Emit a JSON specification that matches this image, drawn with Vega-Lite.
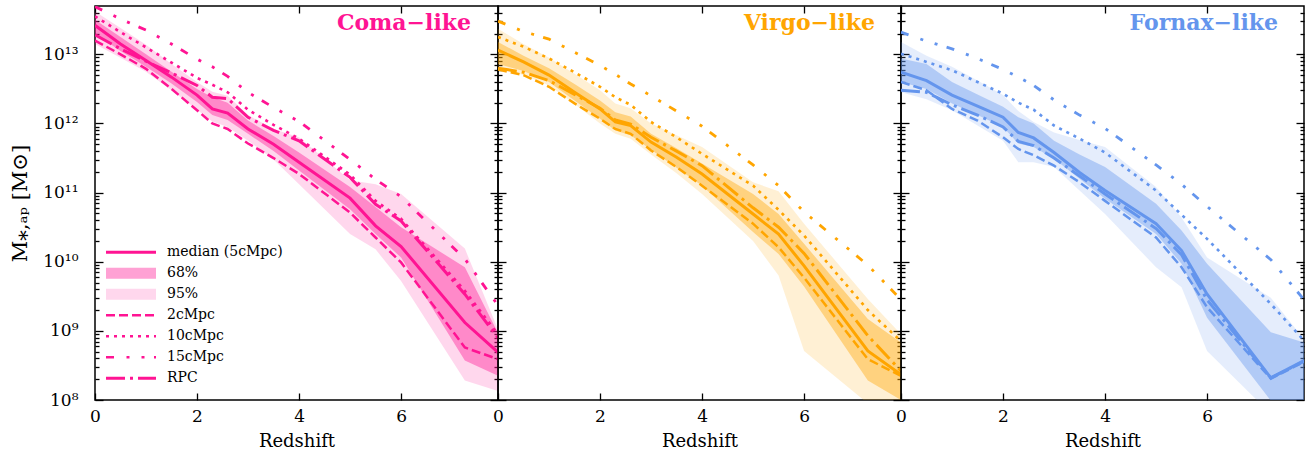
{
  "$schema": "https://vega.github.io/schema/vega-lite/v6.json",
  "padding": {"left": 8, "top": 4, "right": 5, "bottom": 5},
  "spacing": 0,
  "bounds": "flush",
  "config": {
    "font": "DejaVu Serif",
    "view": {"stroke": "black", "strokeWidth": 1.5},
    "title": {"font": "DejaVu Serif"},
    "axis": {"grid": false, "domain": false, "tickColor": "black", "tickWidth": 1.3, "labelColor": "black", "labelFont": "DejaVu Serif", "labelFontSize": 17, "titleFont": "DejaVu Serif", "titleFontSize": 18, "titleFontWeight": "normal", "titleColor": "black", "minExtent": 0}
  },
  "datasets": {
    "d": [
      {"c":"Coma","z":0,"med":2.63e13,"lo68":2.0e13,"hi68":3.16e13,"lo95":1.41e13,"hi95":4.17e13,"d2":1.58e13,"d10":3.55e13,"d15":4.9e13,"rpc":1.91e13},
      {"c":"Coma","z":0.5,"med":1.41e13,"lo68":1.12e13,"hi68":1.78e13,"lo95":8.91e12,"hi95":2.4e13,"d2":1.0e13,"d10":2.09e13,"d15":3.24e13,"rpc":1.2e13},
      {"c":"Coma","z":1,"med":8.13e12,"lo68":6.61e12,"hi68":1.0e13,"lo95":5.62e12,"hi95":1.38e13,"d2":6.17e12,"d10":1.26e13,"d15":2.24e13,"rpc":7.94e12},
      {"c":"Coma","z":1.5,"med":4.68e12,"lo68":3.8e12,"hi68":5.62e12,"lo95":3.02e12,"hi95":7.24e12,"d2":3.16e12,"d10":7.59e12,"d15":1.41e13,"rpc":5.37e12},
      {"c":"Coma","z":2,"med":2.57e12,"lo68":2.04e12,"hi68":3.16e12,"lo95":1.58e12,"hi95":3.98e12,"d2":1.55e12,"d10":4.57e12,"d15":8.51e12,"rpc":3.55e12},
      {"c":"Coma","z":2.3,"med":1.62e12,"lo68":1.32e12,"hi68":2.4e12,"lo95":1.07e12,"hi95":2.88e12,"d2":1.0e12,"d10":3.63e12,"d15":6.61e12,"rpc":2.4e12},
      {"c":"Coma","z":2.6,"med":1.41e12,"lo68":1.12e12,"hi68":2.0e12,"lo95":8.91e11,"hi95":2.51e12,"d2":8.32e11,"d10":2.82e12,"d15":4.79e12,"rpc":2.29e12},
      {"c":"Coma","z":3,"med":8.32e11,"lo68":7.08e11,"hi68":1.1e12,"lo95":5.62e11,"hi95":1.32e12,"d2":5.13e11,"d10":1.58e12,"d15":2.82e12,"rpc":1.23e12},
      {"c":"Coma","z":3.5,"med":5.01e11,"lo68":3.98e11,"hi68":6.61e11,"lo95":3.02e11,"hi95":8.32e11,"d2":3.16e11,"d10":9.55e11,"d15":1.7e12,"rpc":7.94e11},
      {"c":"Coma","z":4,"med":2.75e11,"lo68":2.09e11,"hi68":3.8e11,"lo95":1.32e11,"hi95":6.31e11,"d2":1.86e11,"d10":6.03e11,"d15":1.07e12,"rpc":5.62e11},
      {"c":"Coma","z":5,"med":8.32e10,"lo68":5.75e10,"hi68":1.2e11,"lo95":2.51e10,"hi95":1.51e11,"d2":5.13e10,"d10":1.82e11,"d15":3.02e11,"rpc":1.66e11},
      {"c":"Coma","z":5.5,"med":3.31e10,"lo68":2.51e10,"hi68":6.17e10,"lo95":1.51e10,"hi95":1.32e11,"d2":2.24e10,"d10":7.59e10,"d15":1.55e11,"rpc":6.76e10},
      {"c":"Coma","z":6,"med":1.66e10,"lo68":1.15e10,"hi68":3.16e10,"lo95":5.25e9,"hi95":9.55e10,"d2":9.77e9,"d10":4.17e10,"d15":8.71e10,"rpc":3.89e10},
      {"c":"Coma","z":7.25,"med":1.32e9,"lo68":3.72e8,"hi68":8.32e9,"lo95":1.91e8,"hi95":1.55e10,"d2":5.75e8,"d10":3.8e9,"d15":1.1e10,"rpc":3.39e9},
      {"c":"Coma","z":7.9,"med":4.9e8,"lo68":2.24e8,"hi68":9.33e8,"lo95":1.35e8,"hi95":1.05e9,"d2":3.89e8,"d10":8.91e8,"d15":2.34e9,"rpc":7.94e8},
      {"c":"Virgo","z":0,"med":1.15e13,"lo68":7.24e12,"hi68":1.51e13,"lo95":6.17e12,"hi95":2.34e13,"d2":6.03e12,"d10":1.78e13,"d15":3.02e13,"rpc":6.31e12},
      {"c":"Virgo","z":0.5,"med":7.76e12,"lo68":5.75e12,"hi68":9.55e12,"lo95":5.01e12,"hi95":1.41e13,"d2":5.01e12,"d10":1.29e13,"d15":2.14e13,"rpc":5.5e12},
      {"c":"Virgo","z":1,"med":5.01e12,"lo68":3.98e12,"hi68":6.31e12,"lo95":3.55e12,"hi95":8.91e12,"d2":3.39e12,"d10":8.71e12,"d15":1.66e13,"rpc":4.17e12},
      {"c":"Virgo","z":1.5,"med":2.82e12,"lo68":2.14e12,"hi68":3.72e12,"lo95":1.91e12,"hi95":5.25e12,"d2":1.95e12,"d10":5.5e12,"d15":1.07e13,"rpc":2.63e12},
      {"c":"Virgo","z":2,"med":1.62e12,"lo68":1.17e12,"hi68":2.14e12,"lo95":1.0e12,"hi95":3.02e12,"d2":1.17e12,"d10":3.39e12,"d15":6.92e12,"rpc":1.66e12},
      {"c":"Virgo","z":2.3,"med":1.05e12,"lo68":7.94e11,"hi68":1.45e12,"lo95":7.08e11,"hi95":1.95e12,"d2":8.32e11,"d10":2.4e12,"d15":5.13e12,"rpc":1.12e12},
      {"c":"Virgo","z":2.6,"med":9.33e11,"lo68":6.76e11,"hi68":1.26e12,"lo95":6.03e11,"hi95":1.66e12,"d2":7.08e11,"d10":1.86e12,"d15":3.72e12,"rpc":9.77e11},
      {"c":"Virgo","z":3,"med":5.37e11,"lo68":4.17e11,"hi68":7.08e11,"lo95":3.55e11,"hi95":1.0e12,"d2":4.07e11,"d10":1.05e12,"d15":2.51e12,"rpc":6.31e11},
      {"c":"Virgo","z":3.5,"med":3.24e11,"lo68":2.29e11,"hi68":4.37e11,"lo95":1.91e11,"hi95":6.76e11,"d2":2.34e11,"d10":6.31e11,"d15":1.51e12,"rpc":3.98e11},
      {"c":"Virgo","z":4,"med":1.86e11,"lo68":1.26e11,"hi68":2.63e11,"lo95":9.55e10,"hi95":4.57e11,"d2":1.26e11,"d10":3.63e11,"d15":9.12e11,"rpc":2.45e11},
      {"c":"Virgo","z":5,"med":4.9e10,"lo68":2.69e10,"hi68":9.55e10,"lo95":2.0e10,"hi95":1.41e11,"d2":3.55e10,"d10":1.26e11,"d15":2.51e11,"rpc":6.03e10},
      {"c":"Virgo","z":5.5,"med":2.51e10,"lo68":1.29e10,"hi68":4.9e10,"lo95":6.31e9,"hi95":1.05e11,"d2":1.62e10,"d10":5.62e10,"d15":1.26e11,"rpc":3.16e10},
      {"c":"Virgo","z":6,"med":8.71e9,"lo68":4.37e9,"hi68":1.82e10,"lo95":5.13e8,"hi95":3.55e10,"d2":5.89e9,"d10":2.4e10,"d15":5.25e10,"rpc":1.32e10},
      {"c":"Virgo","z":7.25,"med":5.13e8,"lo68":1.91e8,"hi68":1.48e9,"lo95":8.91e7,"hi95":2.88e9,"d2":3.89e8,"d10":2.0e9,"d15":8.91e9,"rpc":8.51e8},
      {"c":"Virgo","z":7.9,"med":2.34e8,"lo68":1.0e8,"hi68":6.76e8,"lo95":5.01e7,"hi95":8.91e8,"d2":2.24e8,"d10":7.08e8,"d15":2.82e9,"rpc":2.63e8},
      {"c":"Fornax","z":0,"med":5.5e12,"lo68":3.98e12,"hi68":8.71e12,"lo95":2.82e12,"hi95":1.51e13,"d2":3.98e12,"d10":1.02e13,"d15":2.09e13,"rpc":3.02e12},
      {"c":"Fornax","z":0.5,"med":4.17e12,"lo68":3.16e12,"hi68":7.24e12,"lo95":2.24e12,"hi95":9.55e12,"d2":3.02e12,"d10":7.76e12,"d15":1.55e13,"rpc":2.82e12},
      {"c":"Fornax","z":1,"med":2.57e12,"lo68":1.95e12,"hi68":3.98e12,"lo95":1.55e12,"hi95":6.61e12,"d2":1.62e12,"d10":5.89e12,"d15":1.2e13,"rpc":1.86e12},
      {"c":"Fornax","z":1.5,"med":1.78e12,"lo68":1.32e12,"hi68":2.63e12,"lo95":9.33e11,"hi95":4.17e12,"d2":1.1e12,"d10":3.98e12,"d15":8.71e12,"rpc":1.32e12},
      {"c":"Fornax","z":2,"med":1.23e12,"lo68":8.91e11,"hi68":1.74e12,"lo95":5.62e11,"hi95":2.57e12,"d2":6.31e11,"d10":2.69e12,"d15":6.03e12,"rpc":8.91e11},
      {"c":"Fornax","z":2.3,"med":7.41e11,"lo68":5.13e11,"hi68":1.23e12,"lo95":2.75e11,"hi95":1.51e12,"d2":4.27e11,"d10":2.0e12,"d15":4.68e12,"rpc":5.5e11},
      {"c":"Fornax","z":2.6,"med":6.17e11,"lo68":4.57e11,"hi68":1.0e12,"lo95":2.75e11,"hi95":1.05e12,"d2":3.47e11,"d10":1.58e12,"d15":3.55e12,"rpc":4.79e11},
      {"c":"Fornax","z":3,"med":3.8e11,"lo68":3.09e11,"hi68":5.62e11,"lo95":2.34e11,"hi95":7.41e11,"d2":2.45e11,"d10":9.33e11,"d15":2.19e12,"rpc":3.16e11},
      {"c":"Fornax","z":3.5,"med":1.95e11,"lo68":1.58e11,"hi68":3.55e11,"lo95":1.07e11,"hi95":5.75e11,"d2":1.41e11,"d10":6.03e11,"d15":1.32e12,"rpc":1.74e11},
      {"c":"Fornax","z":4,"med":1.07e11,"lo68":8.13e10,"hi68":2.34e11,"lo95":4.9e10,"hi95":4.57e11,"d2":7.59e10,"d10":3.8e11,"d15":8.51e11,"rpc":9.55e10},
      {"c":"Fornax","z":5,"med":3.55e10,"lo68":2.51e10,"hi68":6.92e10,"lo95":8.32e9,"hi95":1.2e11,"d2":2.24e10,"d10":1.07e11,"d15":2.51e11,"rpc":3.02e10},
      {"c":"Fornax","z":5.5,"med":1.45e10,"lo68":9.33e9,"hi68":2.82e10,"lo95":4.27e9,"hi95":4.37e10,"d2":8.32e9,"d10":4.79e10,"d15":1.32e11,"rpc":1.26e10},
      {"c":"Fornax","z":6,"med":3.39e9,"lo68":1.55e9,"hi68":9.33e9,"lo95":5.13e8,"hi95":1.15e10,"d2":2.19e9,"d10":2.14e10,"d15":6.31e10,"rpc":2.82e9},
      {"c":"Fornax","z":7.25,"med":2.09e8,"lo68":9.77e7,"hi68":9.55e8,"lo95":6.31e7,"hi95":3.02e9,"d2":2.04e8,"d10":2.45e9,"d15":1.07e10,"rpc":2.09e8},
      {"c":"Fornax","z":7.9,"med":3.72e8,"lo68":7.94e7,"hi68":6.76e8,"lo95":5.01e7,"hi95":7.59e8,"d2":3.55e8,"d10":7.24e8,"d15":2.82e9,"rpc":3.63e8}
    ]
  },
  "hconcat": [
    {
      "width": 403, "height": 394,
      "data": {"name": "d"},
      "transform": [{"filter": "datum.c === 'Coma'"}],
      "title": {"text": "Coma\u2212like", "color": "#ff1493", "fontSize": 22, "fontWeight": "bold", "anchor": "end", "orient": "top", "frame": "group", "offset": -47, "baseline": "alphabetic", "dx": -27},
      "layer": [
        {
          "mark": {"type": "area", "color": "#ff1493", "opacity": 0.17, "clip": true},
          "encoding": {
            "x": {"field": "z", "type": "quantitative", "scale": {"domain": [0, 7.9], "nice": false, "zero": false},
                  "axis": {"orient": "bottom", "values": [0, 2, 4, 6], "format": "d", "tickSize": -7, "labelPadding": 15, "labelFlush": false, "title": "Redshift", "titlePadding": 8}},
            "y": {"field": "lo95", "type": "quantitative", "scale": {"type": "log", "domain": [1e8, 5e13], "nice": false},
                  "axis": {"orient": "left", "values": [1e8, 1e9, 1e10, 1e11, 1e12, 1e13], "tickSize": -8, "labelPadding": 25,
                           "labelExpr": "datum.value < 3e8 ? '10\u2078' : datum.value < 3e9 ? '10\u2079' : datum.value < 3e10 ? '10\u00b9\u2070' : datum.value < 3e11 ? '10\u00b9\u00b9' : datum.value < 3e12 ? '10\u00b9\u00b2' : '10\u00b9\u00b3'",
                           "title": "M\u204e,\u2090\u209a [M\u2299]", "titleFontSize": 21, "titlePadding": 12}},
            "y2": {"field": "hi95"}
          }
        },
        {
          "mark": {"type": "area", "color": "#ff1493", "opacity": 0.4, "clip": true},
          "encoding": {
            "x": {"field": "z", "type": "quantitative", "axis": {"orient": "top", "values": [0, 2, 4, 6], "tickSize": -7, "labels": false, "title": null, "maxExtent": 0}},
            "y": {"field": "lo68", "type": "quantitative",
                  "axis": {"orient": "left", "values": [2e8,3e8,4e8,5e8,6e8,7e8,8e8,9e8,2e9,3e9,4e9,5e9,6e9,7e9,8e9,9e9,2e10,3e10,4e10,5e10,6e10,7e10,8e10,9e10,2e11,3e11,4e11,5e11,6e11,7e11,8e11,9e11,2e12,3e12,4e12,5e12,6e12,7e12,8e12,9e12,2e13,3e13,4e13], "tickSize": -4, "labels": false, "title": null, "maxExtent": 0}},
            "y2": {"field": "hi68"}
          }
        },
        {
          "transform": [{"fold": ["d2", "d10", "d15", "rpc"], "as": ["s", "v"]}],
          "mark": {"type": "line", "clip": true},
          "encoding": {
            "x": {"field": "z", "type": "quantitative", "axis": null},
            "y": {"field": "v", "type": "quantitative",
                  "axis": {"orient": "right", "values": [1e8, 1e9, 1e10, 1e11, 1e12, 1e13], "tickSize": -8, "labels": false, "title": null, "maxExtent": 0}},
            "color": {"field": "s", "type": "nominal",
                      "scale": {"domain": ["median", "p68", "p95", "d2", "d10", "d15", "rpc"], "range": ["#ff1493", "#ffa1d4", "#ffd7ed", "#ff1493", "#ff1493", "#ff1493", "#ff1493"]},
                      "legend": {"orient": "bottom-left", "title": null, "symbolType": "stroke", "symbolSize": 400, "symbolStrokeWidth": 3, "labelFontSize": 14, "labelFont": "DejaVu Serif", "labelColor": "black", "labelOffset": 11, "clipHeight": 20.5, "rowPadding": 0, "padding": 0, "offset": 11,
                                 "labelExpr": "datum.label === 'median' ? 'median (5cMpc)' : datum.label === 'p68' ? '68%' : datum.label === 'p95' ? '95%' : datum.label === 'd2' ? '2cMpc' : datum.label === 'd10' ? '10cMpc' : datum.label === 'd15' ? '15cMpc' : 'RPC'",
                                 "encode": {"symbols": {"update": {"size": {"value": 2500}, "x": {"value": 25}, "strokeWidth": {"signal": "datum.value === 'p68' || datum.value === 'p95' ? 11 : datum.value === 'median' || datum.value === 'rpc' ? 3 : 2.6"}}},
                                            "labels": {"update": {"x": {"value": 61}}}}}},
            "strokeDash": {"field": "s", "type": "nominal",
                           "scale": {"domain": ["median", "p68", "p95", "d2", "d10", "d15", "rpc"], "range": [[1, 0], [1, 0], [1, 0], [9, 4], [3, 5], [8, 12.5, 3, 12, 3, 9.5], [19, 5, 3, 5]]},
                           "legend": {"orient": "bottom-left", "title": null, "symbolType": "stroke", "symbolSize": 400, "symbolStrokeWidth": 3, "labelFontSize": 14, "labelFont": "DejaVu Serif", "labelColor": "black", "labelOffset": 11, "clipHeight": 20.5, "rowPadding": 0, "padding": 0, "offset": 11,
                                      "labelExpr": "datum.label === 'median' ? 'median (5cMpc)' : datum.label === 'p68' ? '68%' : datum.label === 'p95' ? '95%' : datum.label === 'd2' ? '2cMpc' : datum.label === 'd10' ? '10cMpc' : datum.label === 'd15' ? '15cMpc' : 'RPC'",
                                      "encode": {"symbols": {"update": {"size": {"value": 2500}, "x": {"value": 25}, "strokeWidth": {"signal": "datum.value === 'p68' || datum.value === 'p95' ? 11 : datum.value === 'median' || datum.value === 'rpc' ? 3 : 2.6"}}},
                                                 "labels": {"update": {"x": {"value": 61}}}}}},
            "strokeWidth": {"field": "s", "type": "nominal", "scale": {"type": "point", "domain": ["d2", "d10", "d15", "rpc"], "range": [2.5, 3]}, "legend": null}
          }
        },
        {
          "mark": {"type": "line", "color": "#ff1493", "strokeWidth": 3, "clip": true},
          "encoding": {
            "x": {"field": "z", "type": "quantitative", "axis": null},
            "y": {"field": "med", "type": "quantitative",
                  "axis": {"orient": "right", "values": [2e8,3e8,4e8,5e8,6e8,7e8,8e8,9e8,2e9,3e9,4e9,5e9,6e9,7e9,8e9,9e9,2e10,3e10,4e10,5e10,6e10,7e10,8e10,9e10,2e11,3e11,4e11,5e11,6e11,7e11,8e11,9e11,2e12,3e12,4e12,5e12,6e12,7e12,8e12,9e12,2e13,3e13,4e13], "tickSize": -4, "labels": false, "title": null, "maxExtent": 0}}
          }
        }
      ],
      "resolve": {"axis": {"x": "independent", "y": "independent"}}
    },
    {
      "width": 403, "height": 394,
      "data": {"name": "d"},
      "transform": [{"filter": "datum.c === 'Virgo'"}],
      "title": {"text": "Virgo\u2212like", "color": "#ffa500", "fontSize": 22, "fontWeight": "bold", "anchor": "end", "orient": "top", "frame": "group", "offset": -47, "baseline": "alphabetic", "dx": -26},
      "layer": [
        {
          "mark": {"type": "area", "color": "#ffa500", "opacity": 0.17, "clip": true},
          "encoding": {
            "x": {"field": "z", "type": "quantitative", "scale": {"domain": [0, 7.9], "nice": false, "zero": false},
                  "axis": {"orient": "bottom", "values": [0, 2, 4, 6], "format": "d", "tickSize": -7, "labelPadding": 15, "labelFlush": false, "title": "Redshift", "titlePadding": 8}},
            "y": {"field": "lo95", "type": "quantitative", "scale": {"type": "log", "domain": [1e8, 5e13], "nice": false},
                  "axis": {"orient": "left", "values": [1e8, 1e9, 1e10, 1e11, 1e12, 1e13], "tickSize": -8, "labels": false, "title": null, "maxExtent": 0}},
            "y2": {"field": "hi95"}
          }
        },
        {
          "mark": {"type": "area", "color": "#ffa500", "opacity": 0.4, "clip": true},
          "encoding": {
            "x": {"field": "z", "type": "quantitative", "axis": {"orient": "top", "values": [0, 2, 4, 6], "tickSize": -7, "labels": false, "title": null, "maxExtent": 0}},
            "y": {"field": "lo68", "type": "quantitative",
                  "axis": {"orient": "left", "values": [2e8,3e8,4e8,5e8,6e8,7e8,8e8,9e8,2e9,3e9,4e9,5e9,6e9,7e9,8e9,9e9,2e10,3e10,4e10,5e10,6e10,7e10,8e10,9e10,2e11,3e11,4e11,5e11,6e11,7e11,8e11,9e11,2e12,3e12,4e12,5e12,6e12,7e12,8e12,9e12,2e13,3e13,4e13], "tickSize": -4, "labels": false, "title": null, "maxExtent": 0}},
            "y2": {"field": "hi68"}
          }
        },
        {
          "transform": [{"fold": ["d2", "d10", "d15", "rpc"], "as": ["s", "v"]}],
          "mark": {"type": "line", "clip": true, "color": "#ffa500"},
          "encoding": {
            "x": {"field": "z", "type": "quantitative", "axis": null},
            "y": {"field": "v", "type": "quantitative",
                  "axis": {"orient": "right", "values": [1e8, 1e9, 1e10, 1e11, 1e12, 1e13], "tickSize": -8, "labels": false, "title": null, "maxExtent": 0}},
            "strokeDash": {"field": "s", "type": "nominal",
                           "scale": {"domain": ["d2", "d10", "d15", "rpc"], "range": [[9, 4], [3, 5], [8, 12.5, 3, 12, 3, 9.5], [19, 5, 3, 5]]}, "legend": null},
            "strokeWidth": {"field": "s", "type": "nominal", "scale": {"type": "point", "domain": ["d2", "d10", "d15", "rpc"], "range": [2.5, 3]}, "legend": null}
          }
        },
        {
          "mark": {"type": "line", "color": "#ffa500", "strokeWidth": 3, "clip": true},
          "encoding": {
            "x": {"field": "z", "type": "quantitative", "axis": null},
            "y": {"field": "med", "type": "quantitative",
                  "axis": {"orient": "right", "values": [2e8,3e8,4e8,5e8,6e8,7e8,8e8,9e8,2e9,3e9,4e9,5e9,6e9,7e9,8e9,9e9,2e10,3e10,4e10,5e10,6e10,7e10,8e10,9e10,2e11,3e11,4e11,5e11,6e11,7e11,8e11,9e11,2e12,3e12,4e12,5e12,6e12,7e12,8e12,9e12,2e13,3e13,4e13], "tickSize": -4, "labels": false, "title": null, "maxExtent": 0}}
          }
        }
      ],
      "resolve": {"axis": {"x": "independent", "y": "independent"}}
    },
    {
      "width": 403, "height": 394,
      "data": {"name": "d"},
      "transform": [{"filter": "datum.c === 'Fornax'"}],
      "title": {"text": "Fornax\u2212like", "color": "#6495ed", "fontSize": 22, "fontWeight": "bold", "anchor": "end", "orient": "top", "frame": "group", "offset": -47, "baseline": "alphabetic", "dx": -26},
      "layer": [
        {
          "mark": {"type": "area", "color": "#6495ed", "opacity": 0.17, "clip": true},
          "encoding": {
            "x": {"field": "z", "type": "quantitative", "scale": {"domain": [0, 7.9], "nice": false, "zero": false},
                  "axis": {"orient": "bottom", "values": [0, 2, 4, 6], "format": "d", "tickSize": -7, "labelPadding": 15, "labelFlush": false, "title": "Redshift", "titlePadding": 8}},
            "y": {"field": "lo95", "type": "quantitative", "scale": {"type": "log", "domain": [1e8, 5e13], "nice": false},
                  "axis": {"orient": "left", "values": [1e8, 1e9, 1e10, 1e11, 1e12, 1e13], "tickSize": -8, "labels": false, "title": null, "maxExtent": 0}},
            "y2": {"field": "hi95"}
          }
        },
        {
          "mark": {"type": "area", "color": "#6495ed", "opacity": 0.4, "clip": true},
          "encoding": {
            "x": {"field": "z", "type": "quantitative", "axis": {"orient": "top", "values": [0, 2, 4, 6], "tickSize": -7, "labels": false, "title": null, "maxExtent": 0}},
            "y": {"field": "lo68", "type": "quantitative",
                  "axis": {"orient": "left", "values": [2e8,3e8,4e8,5e8,6e8,7e8,8e8,9e8,2e9,3e9,4e9,5e9,6e9,7e9,8e9,9e9,2e10,3e10,4e10,5e10,6e10,7e10,8e10,9e10,2e11,3e11,4e11,5e11,6e11,7e11,8e11,9e11,2e12,3e12,4e12,5e12,6e12,7e12,8e12,9e12,2e13,3e13,4e13], "tickSize": -4, "labels": false, "title": null, "maxExtent": 0}},
            "y2": {"field": "hi68"}
          }
        },
        {
          "transform": [{"fold": ["d2", "d10", "d15", "rpc"], "as": ["s", "v"]}],
          "mark": {"type": "line", "clip": true, "color": "#6495ed"},
          "encoding": {
            "x": {"field": "z", "type": "quantitative", "axis": null},
            "y": {"field": "v", "type": "quantitative",
                  "axis": {"orient": "right", "values": [1e8, 1e9, 1e10, 1e11, 1e12, 1e13], "tickSize": -8, "labels": false, "title": null, "maxExtent": 0}},
            "strokeDash": {"field": "s", "type": "nominal",
                           "scale": {"domain": ["d2", "d10", "d15", "rpc"], "range": [[9, 4], [3, 5], [8, 12.5, 3, 12, 3, 9.5], [19, 5, 3, 5]]}, "legend": null},
            "strokeWidth": {"field": "s", "type": "nominal", "scale": {"type": "point", "domain": ["d2", "d10", "d15", "rpc"], "range": [2.5, 3]}, "legend": null}
          }
        },
        {
          "mark": {"type": "line", "color": "#6495ed", "strokeWidth": 3, "clip": true},
          "encoding": {
            "x": {"field": "z", "type": "quantitative", "axis": null},
            "y": {"field": "med", "type": "quantitative",
                  "axis": {"orient": "right", "values": [2e8,3e8,4e8,5e8,6e8,7e8,8e8,9e8,2e9,3e9,4e9,5e9,6e9,7e9,8e9,9e9,2e10,3e10,4e10,5e10,6e10,7e10,8e10,9e10,2e11,3e11,4e11,5e11,6e11,7e11,8e11,9e11,2e12,3e12,4e12,5e12,6e12,7e12,8e12,9e12,2e13,3e13,4e13], "tickSize": -4, "labels": false, "title": null, "maxExtent": 0}}
          }
        }
      ],
      "resolve": {"axis": {"x": "independent", "y": "independent"}}
    }
  ],
  "resolve": {"scale": {"color": "independent", "strokeDash": "independent", "strokeWidth": "independent"}, "legend": {"color": "independent", "strokeDash": "independent"}}
}
